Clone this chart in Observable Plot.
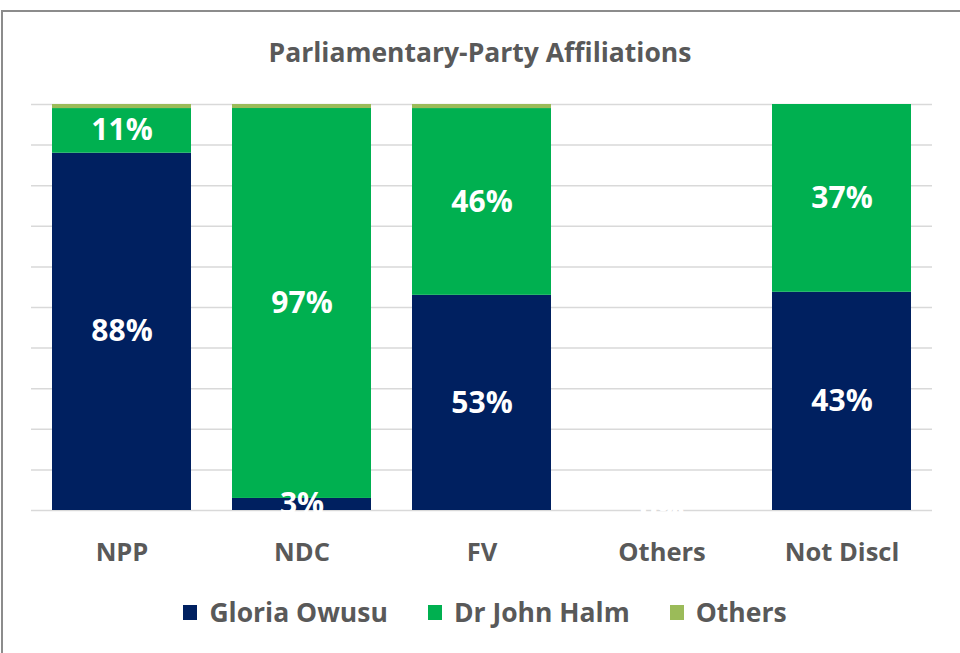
<!DOCTYPE html>
<html>
<head>
<meta charset="utf-8">
<script src="https://cdn.jsdelivr.net/npm/d3@7"></script>
<script src="https://cdn.jsdelivr.net/npm/@observablehq/plot@0.6"></script>
<style>
  html, body { margin: 0; padding: 0; background: #fff; overflow: hidden; }
  #wrap { position: relative; width: 960px; height: 653px; font-family: 'Open Sans', sans-serif; overflow: hidden; }
  #frame { position: absolute; left: 1px; top: 10px; width: 1200px; height: 1200px; border: 2px solid #8c8c8c; box-sizing: border-box; }
  #title { position: absolute; left: 0; top: 34px; width: 960px; height: 36px; line-height: 36px; text-align: center; font-size: 26.5px; font-weight: 700; color: #595959; }
  #chart { position: absolute; left: 0; top: 90px; }
  #legend { position: absolute; left: 0; top: 597px; width: 970px; height: 30px; line-height: 30px; display: flex; justify-content: center; gap: 40px; font-size: 26.5px; font-weight: 700; color: #595959; }
  .item { display: flex; align-items: center; gap: 12px; }
  .sw { width: 14px; height: 15px; display: inline-block; }
</style>
</head>
<body>
<div id="wrap">
  <div id="frame"></div>
  <div id="title">Parliamentary-Party Affiliations</div>
  <div id="chart"></div>
  <div id="legend"></div>
</div>
<script>
const parties = ["NPP", "NDC", "FV", "Others", "Not Discl"];
const candidates = ["Gloria Owusu", "Dr John Halm", "Others"];
const gloria = [88, 3, 53, 0, 43];
const halm = [11, 97, 46, 0, 37];
const othersVals = [1, 1, 1, 0, 0];
const colors = ["#002060", "#00B050", "#9BBB59"];

const series = [gloria, halm, othersVals];
const rows = [];
parties.forEach((p, i) => {
  candidates.forEach((c, j) => {
    rows.push({party: p, candidate: c, value: series[j][i]});
  });
});

const stackedRows = rows.filter(d => d.party !== "Others");
const zeroRows = rows.filter(d => d.party === "Others");

const chart = Plot.plot({
  width: 960,
  height: 500,
  marginTop: 14,
  marginBottom: 80,
  marginLeft: 31,
  marginRight: 28,
  style: {fontFamily: "'Open Sans', sans-serif", background: "transparent"},
  x: {domain: parties, paddingInner: 0.23, paddingOuter: 0.115, axis: null, label: null},
  y: {domain: [0, 1], axis: null, label: null},
  color: {domain: candidates, range: colors},
  marks: [
    Plot.gridY({ticks: d3.range(0, 1.0001, 0.1), stroke: "#d9d9d9", strokeOpacity: 1, strokeWidth: 1.5}),
    Plot.barY(stackedRows, Plot.stackY({x: "party", y: "value", fill: "candidate", offset: "normalize"})),
    Plot.text(stackedRows, Plot.stackY({
      x: "party", y: "value", offset: "normalize",
      text: d => (d.candidate === "Others" || d.value === 0) ? null : d.value + "%",
      fill: "white", fontSize: 30, fontWeight: 700
    })),
    Plot.text(zeroRows, {x: "party", y: "value", text: d => d.value + "%", fill: "white", fontSize: 30, fontWeight: 700}),
    Plot.axisX({tickSize: 0, tickPadding: 32, fontSize: 25.5, fontWeight: 700, color: "#595959", label: null})
  ]
});
document.getElementById("chart").appendChild(chart);

const legend = document.getElementById("legend");
candidates.forEach((c, j) => {
  const item = document.createElement("div");
  item.className = "item";
  const sw = document.createElement("span");
  sw.className = "sw";
  sw.style.background = colors[j];
  const lab = document.createElement("span");
  lab.textContent = c;
  item.appendChild(sw);
  item.appendChild(lab);
  legend.appendChild(item);
});
</script>
</body>
</html>
